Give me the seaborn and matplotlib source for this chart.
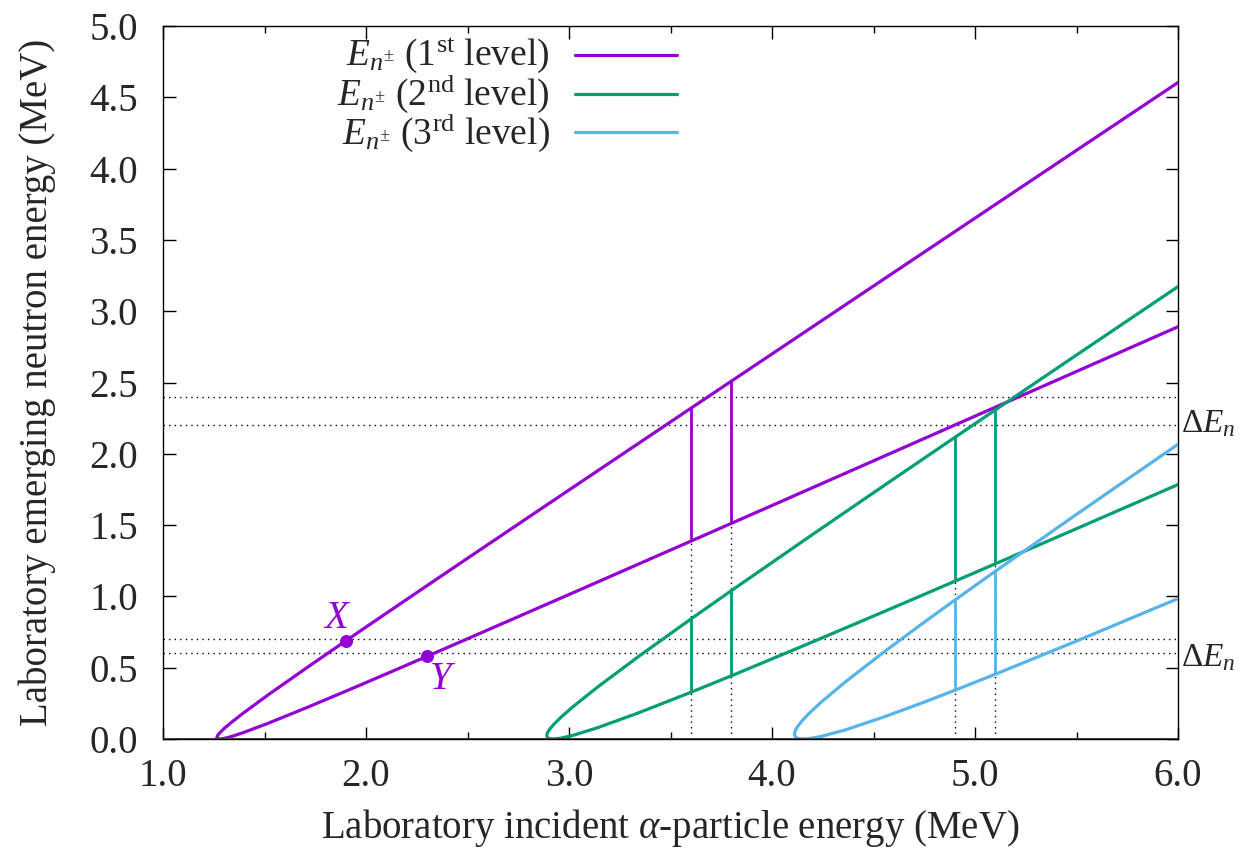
import numpy as np
import pandas as pd
import matplotlib
matplotlib.use("Agg")
import matplotlib.pyplot as plt
import seaborn as sns
from matplotlib.ticker import MultipleLocator

# Incident alpha energy (MeV) and the two neutron energy branches (MeV)
lvl1_energy = [1.265, 1.270, 1.280, 1.300, 1.335, 1.395, 1.515, 1.715, 1.9, 2.0, 2.3, 2.5, 3.0, 3.6, 3.8, 4.5, 5.2, 6.0]
lvl1_upper = [0.0105, 0.0272, 0.0446, 0.0724, 0.1148, 0.1815, 0.3067, 0.5068, 0.6881, 0.7854, 1.0753, 1.2675, 1.7464, 2.3193, 2.5099, 3.1768, 3.8431, 4.6041]
lvl1_lower = [0.0105, 0.0016, 0.0000, 0.0038, 0.0166, 0.0446, 0.1089, 0.2245, 0.3352, 0.3958, 0.5794, 0.7029, 1.0133, 1.3875, 1.5125, 1.9507, 2.3894, 2.8912]

lvl2_energy = [2.890, 2.895, 2.905, 2.925, 2.960, 3.020, 3.140, 3.340, 3.6, 3.8, 4.2, 4.6, 4.9, 5.1, 5.5, 6.0]
lvl2_upper = [0.0239, 0.0472, 0.0693, 0.1029, 0.1523, 0.2272, 0.3636, 0.5760, 0.8412, 1.0409, 1.4347, 1.8242, 2.1146, 2.3076, 2.6927, 3.1726]
lvl2_lower = [0.0239, 0.0085, 0.0022, 0.0001, 0.0060, 0.0258, 0.0788, 0.1821, 0.3274, 0.4433, 0.6809, 0.9229, 1.1060, 1.2287, 1.4751, 1.7844]

lvl3_energy = [4.110, 4.115, 4.125, 4.145, 4.180, 4.240, 4.360, 4.560, 4.75, 4.9, 5.1, 5.5, 6.0]
lvl3_upper = [0.0340, 0.0610, 0.0858, 0.1228, 0.1761, 0.2559, 0.3990, 0.6193, 0.8192, 0.9736, 1.1764, 1.5753, 2.0668]
lvl3_lower = [0.0340, 0.0149, 0.0058, 0.0004, 0.0023, 0.0173, 0.0635, 0.1590, 0.2589, 0.3414, 0.4543, 0.6868, 0.9846]

# energy cuts drawn as vertical segments, per level
lvl1_cuts = [3.6, 3.8]
lvl2_cuts = [3.6, 3.8, 4.9, 5.1]
lvl3_cuts = [4.9, 5.1]

# neutron energy windows (dotted lines)
window_levels = [2.2, 2.4, 0.6, 0.7]
delta_label_y = [2.21, 0.57]

# marked points X and Y
point_names = ["X", "Y"]
point_energy = [1.9, 2.3]
point_en = [0.6881, 0.5794]

legend_labels = [r"$E_{n^{\pm}}$ (1$^{\mathrm{st}}$ level)",
                 r"$E_{n^{\pm}}$ (2$^{\mathrm{nd}}$ level)",
                 r"$E_{n^{\pm}}$ (3$^{\mathrm{rd}}$ level)"]
colors = ["#9400D3", "#009E73", "#56B4E9"]

sns.set_style("ticks")
plt.rcParams["font.family"] = ["Liberation Serif", "DejaVu Serif"]
plt.rcParams["mathtext.fontset"] = "custom"
plt.rcParams["mathtext.rm"] = "Liberation Serif"
plt.rcParams["mathtext.it"] = "Liberation Serif:italic"
plt.rcParams["font.size"] = 28

fig = plt.figure(figsize=(12.4, 8.51), dpi=100)
ax = fig.add_axes([0.1315, 0.1316, 0.8185, 0.8378])

levels = [
    (lvl1_energy, lvl1_upper, lvl1_lower, lvl1_cuts),
    (lvl2_energy, lvl2_upper, lvl2_lower, lvl2_cuts),
    (lvl3_energy, lvl3_upper, lvl3_lower, lvl3_cuts),
]

# dotted guide lines
for y in window_levels:
    ax.axhline(y, color="black", lw=1.0, ls=(0, (1, 3)), zorder=1)
for cut in lvl1_cuts:
    i = lvl1_energy.index(cut)
    ax.vlines(cut, 0, lvl1_lower[i], color="black", lw=1.0, ls=(0, (1, 3)), zorder=1)
for cut in [4.9, 5.1]:
    i = lvl2_energy.index(cut)
    ax.vlines(cut, 0, lvl2_lower[i], color="black", lw=1.0, ls=(0, (1, 3)), zorder=1)

for (energy, upper, lower, cuts), col in zip(levels, colors):
    # trace upper branch backwards then the lower branch, so the nose is one line
    df = pd.DataFrame({
        "E": list(energy[::-1]) + list(energy[1:]),
        "En": list(upper[::-1]) + list(lower[1:]),
    })
    sns.lineplot(data=df, x="E", y="En", sort=False, estimator=None,
                 color=col, lw=2.3, ax=ax, zorder=3)
    for cut in cuts:
        i = energy.index(cut)
        ax.vlines(cut, lower[i], upper[i], color=col, lw=2.0, zorder=3)

ax.axhline(0, color="#404040", lw=2.2, zorder=4)

# X and Y points
ax.scatter(point_energy, point_en, s=70, color=colors[0], zorder=5)
ax.text(point_energy[0] - 0.04, point_en[0] + 0.03, r"$X$", color=colors[0],
        ha="center", va="bottom", fontsize=28)
ax.text(point_energy[1] + 0.075, point_en[1] - 0.03, r"$Y$", color=colors[0],
        ha="center", va="top", fontsize=28)

# delta E labels outside the right axis
for y in delta_label_y:
    ax.text(6.015, y, r"$\Delta E_n$", ha="left", va="center", fontsize=24, clip_on=False)

# legend in gnuplot style: text right aligned, sample to the right
for k, (lab, col) in enumerate(zip(legend_labels, colors)):
    yy = 0.959 - k * 0.054
    ax.text(0.381, yy, lab, transform=ax.transAxes, ha="right", va="center", fontsize=27)
    ax.plot([0.406, 0.506], [yy, yy], transform=ax.transAxes, color=col, lw=2.3)

ax.set_xlim(1.0, 6.0)
ax.set_ylim(0.0, 5.0)
ax.xaxis.set_major_locator(MultipleLocator(1.0))
ax.xaxis.set_minor_locator(MultipleLocator(0.5))
ax.yaxis.set_major_locator(MultipleLocator(0.5))
ax.xaxis.set_major_formatter(matplotlib.ticker.FormatStrFormatter("%.1f"))
ax.yaxis.set_major_formatter(matplotlib.ticker.FormatStrFormatter("%.1f"))
ax.tick_params(which="both", direction="in", top=True, right=True, color="black", width=1.0)
ax.tick_params(which="major", length=9, labelsize=28)
ax.tick_params(which="minor", length=5)
ax.tick_params(axis="x", which="major", pad=14)
ax.tick_params(axis="y", which="major", pad=18)
for sp in ax.spines.values():
    sp.set_color("black")
    sp.set_linewidth(1.0)

ax.set_xlabel(r"Laboratory incident $\alpha$-particle energy (MeV)", fontsize=28, labelpad=8)
ax.set_ylabel("Laboratory emerging neutron energy (MeV)", fontsize=28, labelpad=24)

fig.savefig("out.png", dpi=100)
